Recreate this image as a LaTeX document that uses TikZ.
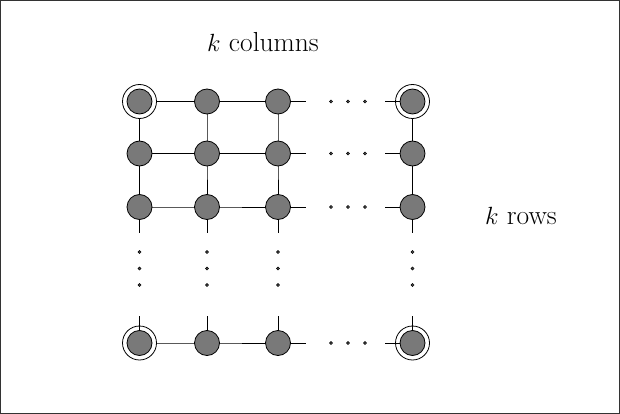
\documentclass[tikz,border=0pt]{standalone}
\begin{document}
\begin{tikzpicture}[x=1pt,y=-1pt,
  site/.style={circle, draw=black, fill=gray!95!black, line width=0.8pt,
               minimum size=25pt, inner sep=0pt},
  ring/.style={circle, draw=black, fill=white, line width=0.8pt,
               minimum size=34pt, inner sep=0pt},
  ellip/.style={circle, draw=black, fill=gray!60!black, line width=0.5pt,
                minimum size=3.2pt, inner sep=0pt},
  bond/.style={draw=black, line width=0.8pt},
  lbl/.style={font=\fontsize{27.5}{32}\selectfont}]
% frame
\draw[line width=0.8pt, black!80] (0.5,0.5) rectangle (619.5,413.5);
\useasboundingbox (0,0) rectangle (620,414);

% lattice site positions
\coordinate (p11) at (139.5,101.5); \coordinate (p12) at (207,101.5);
\coordinate (p13) at (278,101.5);   \coordinate (p1k) at (412.5,101.5);
\coordinate (p21) at (139.5,153.5); \coordinate (p22) at (207,153.5);
\coordinate (p23) at (278,153.5);   \coordinate (p2k) at (412.5,153.5);
\coordinate (p31) at (139.5,207);   \coordinate (p32) at (207,207);
\coordinate (p33) at (278,207);     \coordinate (p3k) at (412.5,207);
\coordinate (pk1) at (139.5,343);   \coordinate (pk2) at (207,343);
\coordinate (pk3) at (278,343);     \coordinate (pkk) at (412.5,343);

% bonds between neighbouring sites
\draw[bond] (p11) -- (p12) -- (p13);
\draw[bond] (p21) -- (p22) -- (p23);
\draw[bond] (p31) -- (p32) -- (p33);
\draw[bond] (pk1) -- (pk2) -- (pk3);
\draw[bond] (p11) -- (p21) -- (p31);
\draw[bond] (p12) -- (p22) -- (p32);
\draw[bond] (p13) -- (p23) -- (p33);
\draw[bond] (p1k) -- (p2k) -- (p3k);

% corner rings
\foreach \c in {p11,p1k,pk1,pkk}
  \node[ring] (r\c) at (\c) {};

% open ends leading to the ellipses
\foreach \r/\y in {1/101.5,2/153.5,3/207,k/343} {
  \coordinate (hs\r) at (306,\y);
  \coordinate (he\r) at (385,\y);
  \draw[bond] (p\r3) -- (hs\r);
  \draw[bond] (he\r) -- (p\r k);
}
\foreach \c/\x in {1/139.5,2/207,3/278,k/412.5} {
  \coordinate (vs\c) at (\x,233);
  \coordinate (ve\c) at (\x,316);
  \draw[bond] (p3\c) -- (vs\c);
  \draw[bond] (ve\c) -- (pk\c);
}

% sites
\foreach \c in {p11,p12,p13,p1k,p21,p22,p23,p2k,p31,p32,p33,p3k,pk1,pk2,pk3,pkk}
  \node[site] (s\c) at (\c) {};

% horizontal ellipses
\foreach \r/\y in {1/101.5,2/153.5,3/207,k/343}
  \foreach \x [count=\i] in {331,348,365}
    \node[ellip] (h\r\i) at (\x,\y) {};
% vertical ellipses
\foreach \c/\x in {1/139.5,2/207,3/278,k/412.5}
  \foreach \y [count=\i] in {252,268.5,285}
    \node[ellip] (v\c\i) at (\x,\y) {};

% labels
\node[lbl] (cols) at (263,42) {$k$ columns};
\node[lbl] (rows) at (521,216) {$k$ rows};
\end{tikzpicture}
\end{document}
